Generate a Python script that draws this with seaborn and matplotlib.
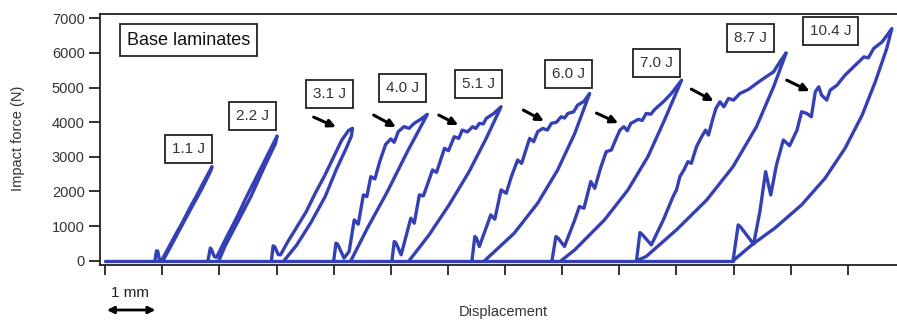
import matplotlib
matplotlib.use('Agg')
import matplotlib.pyplot as plt
import matplotlib.transforms as mtransforms
import seaborn as sns

# displacement in mm (tick spacing = 1 mm), force in N
base_disp = [0.0, 10.99]
base_force = [0, 0]

disp_1 = [0.87, 0.90, 0.92, 0.95, 0.99, 1.10, 1.22, 1.35, 1.48, 1.60, 1.72, 1.87,
          1.85, 1.70, 1.52, 1.33, 1.15, 1.01]
force_1 = [0, 288, 280, 30, 20, 350, 720, 1100, 1520, 1880, 2260, 2718,
           2600, 2100, 1560, 980, 420, 0]

disp_2 = [1.80, 1.84, 1.86, 1.91, 1.95, 2.10, 2.30, 2.46, 2.65, 2.85, 3.01,
          2.98, 2.80, 2.55, 2.30, 2.10, 1.99]
force_2 = [0, 366, 330, 124, 100, 600, 1240, 1800, 2420, 3080, 3602,
           3380, 2760, 1850, 1060, 430, 0]

disp_3 = [2.91, 2.94, 2.97, 3.03, 3.07, 3.20, 3.35, 3.52, 3.68, 3.84, 4.00, 4.14, 4.26, 4.33,
          4.31, 4.22, 4.05, 3.85, 3.60, 3.35, 3.13]
force_3 = [0, 432, 400, 180, 173, 560, 960, 1420, 1960, 2450, 3000, 3480, 3760, 3825,
           3600, 3250, 2650, 1850, 1100, 450, 0]

disp_4 = [4.00, 4.04, 4.07, 4.18, 4.27, 4.36, 4.43, 4.52, 4.58, 4.65, 4.72, 4.81, 4.91,
          5.00, 5.06, 5.13, 5.23, 5.32, 5.41, 5.53, 5.64,
          5.29, 4.94, 4.59, 4.30]
force_4 = [0, 510, 480, 78, 268, 1181, 1057, 1902, 1853, 2429, 2363, 2882, 3362,
           3516, 3420, 3727, 3871, 3823, 3967, 4092, 4227,
           3150, 1997, 942, 0]

disp_5 = [5.02, 5.06, 5.09, 5.18, 5.35, 5.41, 5.50, 5.57, 5.73, 5.80, 5.94, 6.01, 6.11,
          6.19, 6.25, 6.34, 6.43, 6.49, 6.55, 6.62, 6.67, 6.80, 6.93,
          6.67, 6.37, 6.02, 5.67, 5.32]
force_5 = [0, 557, 520, 173, 1229, 1085, 1901, 1872, 2621, 2553, 3245, 3178, 3581,
           3533, 3773, 3720, 3869, 3820, 3965, 3950, 4109, 4250, 4445,
           3533, 2573, 1613, 749, 0]

disp_6 = [6.42, 6.47, 6.50, 6.55, 6.75, 6.82, 6.93, 7.02, 7.11, 7.22, 7.29, 7.43, 7.50,
          7.57, 7.66, 7.74, 7.81, 7.90, 7.98, 8.04, 8.10, 8.20, 8.27, 8.38, 8.48,
          8.22, 7.92, 7.57, 7.16, 6.64]
force_6 = [0, 701, 650, 413, 1325, 1200, 2045, 1949, 2429, 2909, 2813, 3533, 3437,
           3725, 3821, 3773, 3965, 4000, 4157, 4120, 4253, 4300, 4493, 4600, 4829,
           3677, 2621, 1661, 797, 0]

disp_7 = [7.82, 7.89, 7.93, 8.04, 8.22, 8.30, 8.38, 8.50, 8.57, 8.67, 8.77, 8.86, 8.92,
          9.01, 9.08, 9.14, 9.20, 9.33, 9.40, 9.47, 9.55, 9.62, 9.77, 9.91, 10.09,
          9.79, 9.50, 9.15, 8.74, 8.22, 7.98]
force_7 = [0, 701, 650, 413, 1181, 1565, 1517, 2285, 2093, 2669, 3149, 3197, 3437,
           3773, 3869, 3754, 3965, 4081, 4050, 4253, 4230, 4369, 4589, 4829, 5213,
           4061, 3005, 2045, 1181, 317, 0]

disp_8 = [9.30, 9.36, 9.40, 9.56, 9.77, 9.94, 10.00, 10.06, 10.13, 10.20, 10.26, 10.35,
          10.44, 10.51, 10.56, 10.63, 10.69, 10.76, 10.83, 10.91, 11.00, 11.11, 11.26,
          11.40, 11.55, 11.70, 11.81, 11.92,
          11.70, 11.40, 10.99, 10.53, 10.00, 9.47, 9.30]
force_8 = [0, 816, 760, 461, 1181, 1853, 2045, 2429, 2621, 2861, 2813, 3293,
           3581, 3773, 3629, 4061, 4397, 4589, 4445, 4685, 4637, 4829, 4945,
           5117, 5290, 5453, 5741, 6000,
           5021, 3869, 2717, 1757, 893, 125, 0]

disp_9 = [10.99, 11.08, 11.12, 11.35, 11.46, 11.56, 11.65, 11.75, 11.87, 11.98, 12.11,
          12.19, 12.28, 12.36, 12.43, 12.49, 12.54, 12.63, 12.69, 12.81, 12.95, 13.07,
          13.19, 13.28, 13.36, 13.45, 13.60, 13.77,
          13.68, 13.48, 13.25, 12.95, 12.60, 12.19, 11.72, 11.32, 10.99]
force_9 = [0, 1037, 980, 480, 1421, 2573, 1901, 2765, 3485, 3322, 3773,
           4301, 4253, 4157, 4877, 5021, 4781, 4637, 4925, 5069, 5357, 5549,
           5741, 5885, 5856, 6125, 6317, 6702,
           6125, 5165, 4205, 3245, 2381, 1613, 941, 461, 0]

curves = [(disp_1, force_1), (disp_2, force_2), (disp_3, force_3),
          (disp_4, force_4), (disp_5, force_5), (disp_6, force_6),
          (disp_7, force_7), (disp_8, force_8), (disp_9, force_9)]

energies = ['1.1 J', '2.2 J', '3.1 J', '4.0 J', '5.1 J', '6.0 J', '7.0 J', '8.7 J', '10.4 J']
label_x = [1.46, 2.58, 3.93, 5.21, 6.54, 8.11, 9.65, 11.30, 12.70]
label_y = [3228, 4179, 4813, 4986, 5101, 5389, 5706, 6427, 6628]

# damage onset arrows (3.1 J .. 10.4 J): tail -> head
arrow_tail = [(3.65, 4147), (4.70, 4205), (5.84, 4205), (7.32, 4349),
              (8.60, 4262), (10.26, 4954), (11.93, 5213)]
arrow_head = [(4.04, 3859), (5.09, 3859), (6.18, 3917), (7.68, 4032),
              (8.98, 3974), (10.65, 4608), (12.33, 4896)]

BLUE = '#3440b4'

sns.set_theme(style='ticks')
plt.rcParams['font.family'] = ['Liberation Sans', 'DejaVu Sans']

fig = plt.figure(figsize=(8.97, 3.2), dpi=100)
ax = fig.add_axes([0.1115, 0.172, 0.8885, 0.784])

sns.lineplot(x=base_disp, y=base_force, sort=False, estimator=None,
             color=BLUE, lw=2.4, ax=ax)
for d, f in curves:
    sns.lineplot(x=d, y=f, sort=False, estimator=None, color=BLUE, lw=2.4, ax=ax)

box = dict(boxstyle='square,pad=0.45', fc='white', ec='#222222', lw=1.3)
for txt, x, y in zip(energies, label_x, label_y):
    ax.text(x, y, txt, fontsize=11, ha='center', va='center', color='#333333', bbox=box)

ax.text(1.46, 6369, 'Base laminates', fontsize=13, ha='center', va='center',
        color='#111111', bbox=dict(boxstyle='square,pad=0.4', fc='white', ec='#222222', lw=1.3))

for t, h in zip(arrow_tail, arrow_head):
    ax.annotate('', xy=h, xytext=t,
                arrowprops=dict(arrowstyle='-|>', color='black', lw=2.2,
                                mutation_scale=11, shrinkA=0, shrinkB=0))

ax.set_xlim(-0.09, 13.86)
ax.set_ylim(-120, 7120)
ax.set_xticks(range(14))
ax.set_xticklabels([])
ax.set_yticks(range(0, 7001, 1000))
ax.tick_params(axis='x', length=7, width=1.3, direction='out', color='#222222')
ax.tick_params(axis='y', length=8, width=1.3, direction='out', color='#222222',
               labelsize=10.5, labelcolor='#333333', pad=3)
ax.set_xlabel('')
ax.set_ylabel('')
for s in ['left', 'bottom', 'top']:
    ax.spines[s].set_color('#222222')
    ax.spines[s].set_linewidth(1.3)
ax.spines['right'].set_visible(False)

fig.text(18 / 897, 0.568, 'Impact force (N)', rotation=90, ha='center', va='center',
         fontsize=10.5, color='#333333')
fig.text(503 / 897, 1 - 312 / 320, 'Displacement', ha='center', va='center',
         fontsize=10.5, color='#333333')

# 1 mm scale bar below the axis
trans = mtransforms.blended_transform_factory(ax.transData, fig.transFigure)
ax.annotate('', xy=(0.88, 1 - 310 / 320), xytext=(0.03, 1 - 310 / 320),
            xycoords=trans, textcoords=trans, annotation_clip=False,
            arrowprops=dict(arrowstyle='<|-|>', color='black', lw=2,
                            mutation_scale=10, shrinkA=0, shrinkB=0))
ax.text(0.44, 1 - 293 / 320, '1 mm', transform=trans, ha='center', va='center',
        fontsize=11, color='#222222', clip_on=False)

fig.savefig('out.png', dpi=100)
